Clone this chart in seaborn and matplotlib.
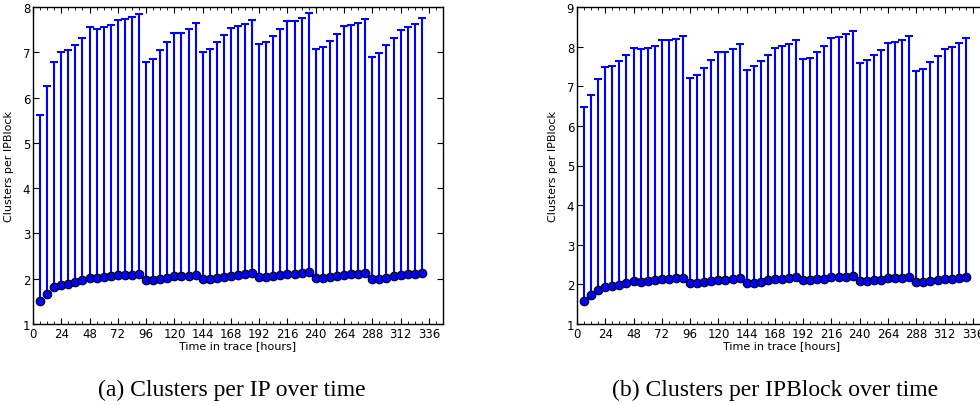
import numpy as np
import pandas as pd
import seaborn as sns
import matplotlib
matplotlib.use('Agg')
import matplotlib.pyplot as plt
import matplotlib.ticker as ticker

# --- data ---
hours = [6, 12, 18, 24, 30, 36, 42, 48, 54, 60, 66, 72, 78, 84, 90,
         96, 102, 108, 114, 120, 126, 132, 138,
         144, 150, 156, 162, 168, 174, 180, 186,
         192, 198, 204, 210, 216, 222, 228, 234,
         240, 246, 252, 258, 264, 270, 276, 282,
         288, 294, 300, 306, 312, 318, 324, 330]

ip_mean = [1.50, 1.67, 1.81, 1.87, 1.89, 1.92, 1.97, 2.02, 2.02, 2.03, 2.05, 2.08, 2.08, 2.09, 2.11,
           1.98, 1.98, 2.00, 2.02, 2.05, 2.05, 2.07, 2.09,
           1.99, 1.99, 2.01, 2.04, 2.07, 2.08, 2.10, 2.12,
           2.04, 2.04, 2.07, 2.08, 2.11, 2.11, 2.13, 2.14,
           2.01, 2.01, 2.04, 2.06, 2.09, 2.10, 2.10, 2.13,
           2.00, 2.00, 2.02, 2.05, 2.08, 2.10, 2.10, 2.13]
ip_upper = [5.62, 6.26, 6.79, 7.01, 7.04, 7.15, 7.32, 7.55, 7.52, 7.55, 7.61, 7.72, 7.74, 7.79, 7.85,
            6.78, 6.86, 7.04, 7.23, 7.43, 7.43, 7.52, 7.65,
            7.00, 7.08, 7.23, 7.39, 7.54, 7.57, 7.63, 7.72,
            7.18, 7.23, 7.37, 7.52, 7.70, 7.70, 7.76, 7.87,
            7.08, 7.12, 7.26, 7.40, 7.57, 7.60, 7.65, 7.74,
            6.90, 6.98, 7.15, 7.32, 7.50, 7.55, 7.63, 7.76]

block_mean = [1.59, 1.73, 1.87, 1.94, 1.95, 1.98, 2.03, 2.08, 2.07, 2.08, 2.11, 2.13, 2.14, 2.15, 2.17,
              2.03, 2.03, 2.05, 2.08, 2.11, 2.12, 2.13, 2.15,
              2.03, 2.04, 2.06, 2.10, 2.13, 2.14, 2.16, 2.18,
              2.11, 2.11, 2.13, 2.14, 2.18, 2.18, 2.19, 2.21,
              2.08, 2.08, 2.10, 2.12, 2.15, 2.16, 2.17, 2.19,
              2.06, 2.06, 2.08, 2.11, 2.14, 2.14, 2.16, 2.19]
block_upper = [6.47, 6.79, 7.18, 7.49, 7.52, 7.63, 7.80, 7.97, 7.95, 7.97, 8.02, 8.16, 8.17, 8.20, 8.28,
               7.20, 7.28, 7.45, 7.67, 7.86, 7.87, 7.95, 8.07,
               7.42, 7.52, 7.64, 7.80, 7.97, 8.02, 8.07, 8.17,
               7.68, 7.72, 7.87, 8.02, 8.22, 8.25, 8.31, 8.40,
               7.59, 7.67, 7.79, 7.92, 8.08, 8.11, 8.17, 8.27,
               7.38, 7.43, 7.62, 7.77, 7.95, 8.00, 8.10, 8.22]

xticks = [0, 24, 48, 72, 96, 120, 144, 168, 192, 216, 240, 264, 288, 312, 336]

sns.set_style('ticks')
plt.rcParams['font.family'] = ['DejaVu Sans']
plt.rcParams.update({
    'xtick.direction': 'in', 'ytick.direction': 'in',
    'xtick.top': True, 'ytick.right': True,
    'xtick.major.size': 4, 'ytick.major.size': 4,
    'xtick.minor.size': 2, 'xtick.major.width': 0.8,
    'axes.edgecolor': 'black', 'axes.linewidth': 1.0,
    'text.color': 'black', 'axes.labelcolor': 'black',
    'xtick.color': 'black', 'ytick.color': 'black',
})

fig = plt.figure(figsize=(9.8, 4.06), dpi=100)


def panel(ax, mean, upper, ymax, caption, cx):
    df = pd.DataFrame({'hours': hours, 'mean': mean, 'upper': upper})
    err = np.vstack([np.zeros(len(df)), df['upper'] - df['mean']])
    ax.errorbar(df['hours'], df['mean'], yerr=err, fmt='none',
                ecolor='#0000ff', elinewidth=1.5, capsize=3.2, capthick=1.5, zorder=2)
    sns.scatterplot(data=df, x='hours', y='mean', ax=ax, color='#0000ff',
                    edgecolor='black', linewidth=0.8, s=38, zorder=3, legend=False)
    ax.set_xlim(0, 348)
    ax.set_ylim(1, ymax)
    ax.set_xticks(xticks)
    ax.xaxis.set_minor_locator(ticker.MultipleLocator(6))
    ax.yaxis.set_major_locator(ticker.MultipleLocator(1))
    ax.tick_params(axis='both', which='major', labelsize=8.5, pad=2)
    ax.tick_params(axis='x', which='minor', top=True, direction='in')
    ax.set_xlabel('Time in trace [hours]', fontsize=8, labelpad=0)
    ax.set_ylabel('Clusters per IPBlock', fontsize=8, labelpad=6)
    fig.text(cx, 1 - 390 / 406, caption, ha='center', va='center',
             fontsize=17, family='Liberation Serif', color='black')


ax1 = fig.add_axes([33 / 980, 81 / 406, 410 / 980, 317 / 406])
panel(ax1, ip_mean, ip_upper, 8, '(a) Clusters per IP over time', 232 / 980)

ax2 = fig.add_axes([577 / 980, 81 / 406, 410 / 980, 317 / 406])
panel(ax2, block_mean, block_upper, 9, '(b) Clusters per IPBlock over time', 775 / 980)

fig.savefig('out.png', dpi=100)
